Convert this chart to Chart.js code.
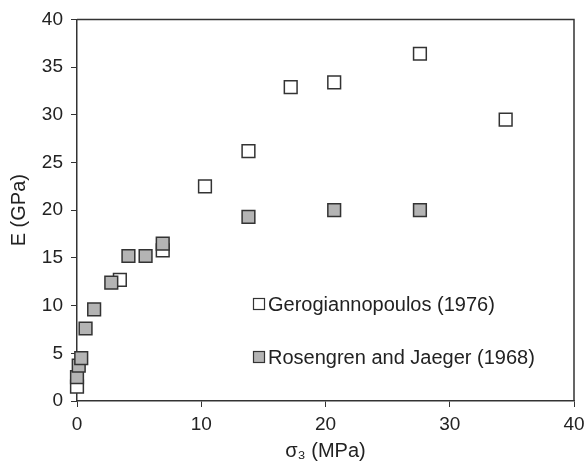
<!DOCTYPE html>
<html>
<head>
<meta charset="utf-8">
<script src="https://cdn.jsdelivr.net/npm/chart.js@4/dist/chart.umd.min.js"></script>
<style>
  body { margin: 0; background: #fff; }
  canvas { display: block; }
</style>
</head>
<body>
<canvas id="chart" width="585" height="463"></canvas>
<script>
// Gerogiannopoulos (1976) - open squares
const geroSigma3 = [0, 3.45, 6.9, 10.3, 13.8, 17.2, 20.7, 27.6, 34.5];
const geroE = [1.5, 12.7, 15.8, 22.5, 26.2, 32.9, 33.4, 36.4, 29.5];

// Rosengren and Jaeger (1968) - grey squares
const rosSigma3 = [0, 0.14, 0.34, 0.69, 1.38, 2.76, 4.14, 5.52, 6.9, 13.8, 20.7, 27.6];
const rosE = [2.5, 3.7, 4.5, 7.6, 9.6, 12.4, 15.2, 15.2, 16.5, 19.3, 20.0, 20.0];

const seriesLabels = ['Gerogiannopoulos (1976)', 'Rosengren and Jaeger (1968)'];
const xTicks = [0, 10, 20, 30, 40];
const yTicks = [0, 5, 10, 15, 20, 25, 30, 35, 40];

const FONT = '"Liberation Sans", Arial, sans-serif';
const INK = '#333333';
const TEXT = '#222222';

function toPoints(xs, ys) {
    return xs.map((x, i) => ({ x: x, y: ys[i] }));
}

// box on top/right plus the in-plot legend
const frameAndLegend = {
    id: 'frameAndLegend',
    afterDraw(chart) {
        const ctx = chart.ctx;
        const a = chart.chartArea;
        ctx.save();
        ctx.strokeStyle = INK;
        ctx.lineWidth = 1.5;
        ctx.beginPath();
        ctx.moveTo(a.left, a.top);
        ctx.lineTo(a.right, a.top);
        ctx.lineTo(a.right, a.bottom);
        ctx.stroke();

        const rows = [
            { y: 304, fill: '#ffffff' },
            { y: 357, fill: '#b4b4b4' }
        ];
        ctx.font = '20px ' + FONT;
        ctx.textBaseline = 'middle';
        rows.forEach((r, i) => {
            ctx.fillStyle = r.fill;
            ctx.fillRect(253, r.y - 6, 12, 12);
            ctx.lineWidth = 1.2;
            ctx.strokeStyle = INK;
            ctx.strokeRect(253.5, r.y - 5.5, 11, 11);
            ctx.fillStyle = TEXT;
            ctx.fillText(seriesLabels[i], 268, r.y + 1);
        });
        ctx.restore();
    }
};

const ctx = document.getElementById('chart').getContext('2d');
new Chart(ctx, {
    type: 'scatter',
    data: {
        datasets: [{
            label: seriesLabels[1],
            data: toPoints(rosSigma3, rosE),
            pointStyle: 'rect',
            pointRadius: 9,
            pointBackgroundColor: '#b4b4b4',
            pointBorderColor: INK,
            pointBorderWidth: 1.5,
            clip: false,
        }, {
            label: seriesLabels[0],
            data: toPoints(geroSigma3, geroE),
            pointStyle: 'rect',
            pointRadius: 9,
            pointBackgroundColor: '#ffffff',
            pointBorderColor: INK,
            pointBorderWidth: 1.5,
            clip: false,
        }]
    },
    options: {
        responsive: false,
        animation: false,
        layout: { padding: { top: 19, right: 0, left: 0, bottom: 0 } },
        plugins: {
            legend: { display: false },
            tooltip: { enabled: false }
        },
        scales: {
            x: {
                type: 'linear',
                min: 0,
                max: 40,
                afterBuildTicks: (s) => { s.ticks = xTicks.map(v => ({ value: v })); },
                afterFit: (s) => { s.height = 62; s.paddingRight = 11; },
                border: { color: INK, width: 1.5 },
                grid: { drawOnChartArea: false, tickLength: 6, color: INK, lineWidth: 1 },
                ticks: { color: TEXT, font: { family: FONT, size: 19 }, padding: 6 },
                title: {
                    display: true,
                    text: 'σ₃ (MPa)',
                    color: TEXT,
                    font: { family: FONT, size: 20 },
                    padding: { top: 4, bottom: 0 }
                }
            },
            y: {
                type: 'linear',
                min: 0,
                max: 40,
                afterBuildTicks: (s) => { s.ticks = yTicks.map(v => ({ value: v })); },
                afterFit: (s) => { s.width = 77; },
                border: { color: INK, width: 1.5 },
                grid: { drawOnChartArea: false, tickLength: 6, color: INK, lineWidth: 1 },
                ticks: { color: TEXT, font: { family: FONT, size: 19 }, padding: 8 },
                title: {
                    display: true,
                    text: 'E (GPa)',
                    color: TEXT,
                    font: { family: FONT, size: 20 },
                    padding: { top: 7, bottom: 0 }
                }
            }
        }
    },
    plugins: [frameAndLegend]
});
</script>
</body>
</html>
